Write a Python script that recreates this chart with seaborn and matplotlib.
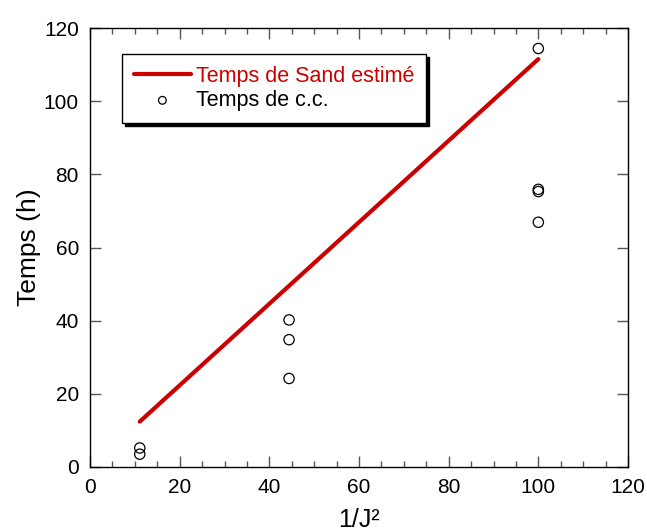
import numpy as np
import pandas as pd
import matplotlib.pyplot as plt
import seaborn as sns
from matplotlib.ticker import MultipleLocator

# estimated Sand time (line)
sand_x = [11.1, 100.0]
sand_y = [12.4, 111.5]

# measured short-circuit times
cc_x = [11.1, 11.1, 44.4, 44.4, 44.4, 100.0, 100.0, 100.0, 100.0]
cc_y = [3.5, 5.2, 24.2, 34.8, 40.2, 66.9, 75.3, 75.9, 114.4]

sand_df = pd.DataFrame({'x': sand_x, 'y': sand_y})
cc_df = pd.DataFrame({'x': cc_x, 'y': cc_y})

sns.set_style('ticks')
plt.rcParams['font.family'] = ['Liberation Sans', 'DejaVu Sans']
plt.rcParams['text.color'] = 'black'
plt.rcParams['axes.labelcolor'] = 'black'

fig = plt.figure(figsize=(6.47, 5.31), dpi=100)
ax = fig.add_axes([90 / 647, 1 - 467 / 531, 538 / 647, 439 / 531])

sns.lineplot(data=sand_df, x='x', y='y', ax=ax, color='#cc0000', linewidth=3,
             label='Temps de Sand estimé')
sns.scatterplot(data=cc_df, x='x', y='y', ax=ax, marker='o', s=55,
                facecolor='none', edgecolor='black', linewidth=0.9,
                label='Temps de c.c.')

ax.set_xlim(0, 120)
ax.set_ylim(0, 120)
ax.xaxis.set_major_locator(MultipleLocator(20))
ax.xaxis.set_minor_locator(MultipleLocator(5))
ax.yaxis.set_major_locator(MultipleLocator(20))
ax.tick_params(which='both', direction='in', top=True, right=True,
               labelsize=15, color='#555555', labelcolor='black')
ax.tick_params(which='major', length=8, width=1, pad=8)
ax.tick_params(which='minor', length=4, width=1)
for s in ax.spines.values():
    s.set_linewidth(1)
    s.set_color('black')

ax.set_xlabel('1/J²', fontsize=18, labelpad=8)
ax.set_ylabel('Temps (h)', fontsize=19, labelpad=2)

leg = ax.legend(loc='upper left', bbox_to_anchor=(0.0595, 0.941), fontsize=15.5,
                frameon=True, fancybox=False, shadow={'color': 'black', 'alpha': 1},
                edgecolor='black', handlelength=2.65, borderpad=0.55,
                borderaxespad=0, labelspacing=0.15, markerscale=0.75,
                handletextpad=0.25)
leg.get_frame().set_linewidth(1)
leg.get_texts()[0].set_color('#cc0000')

fig.savefig('out.png', dpi=100)
